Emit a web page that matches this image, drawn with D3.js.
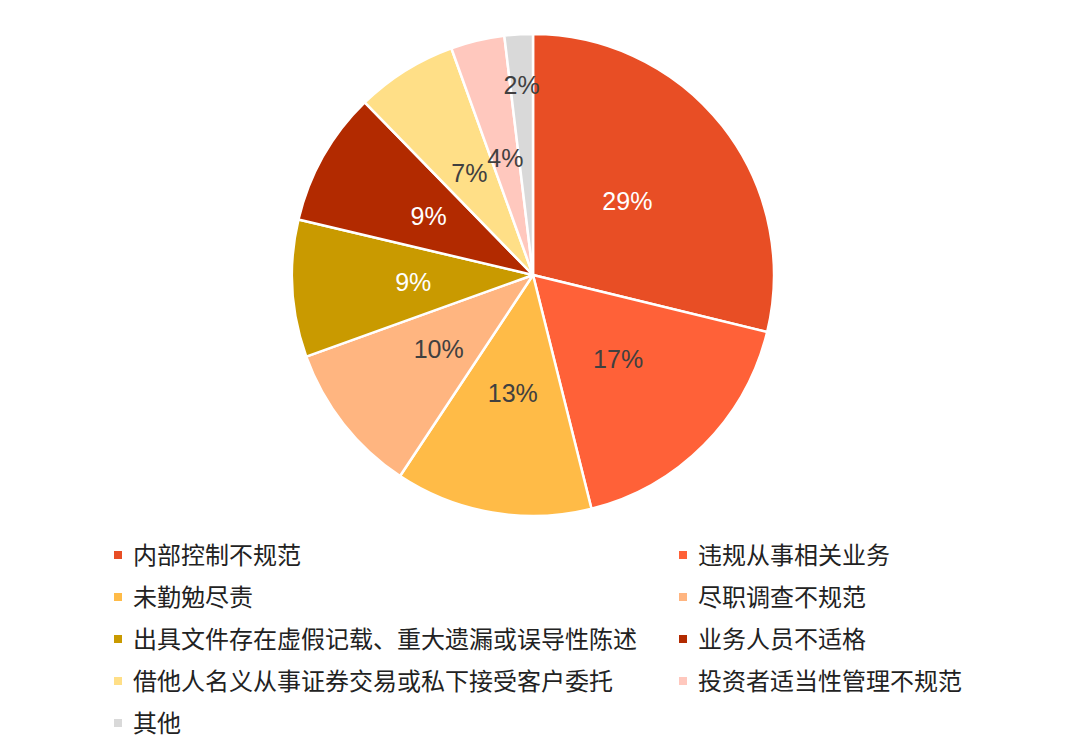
<!DOCTYPE html>
<html>
<head>
<meta charset="utf-8">
<script src="https://cdn.jsdelivr.net/npm/d3@7"></script>
<style>
  body { margin: 0; background: #fff; }
  svg text { font-family: "Liberation Sans", Arial, sans-serif; }
  .lg text { font-family: "Noto Sans CJK SC", sans-serif; font-size: 24px; fill: #222; }
</style>
</head>
<body>
<svg id="chart" width="1080" height="756"></svg>
<script>
// Data (shares; labels show them rounded)
const categories = ['内部控制不规范', '违规从事相关业务', '未勤勉尽责', '尽职调查不规范',
  '出具文件存在虚假记载、重大遗漏或误导性陈述', '业务人员不适格',
  '借他人名义从事证券交易或私下接受客户委托', '投资者适当性管理不规范', '其他']
const values = [28.8, 17.3, 13.2, 10.2, 9.2, 9.0, 6.8, 3.6, 1.9]
const colors = ['#E84E25', '#FF6138', '#FFBB47', '#FFB580', '#C99A00', '#B22A00', '#FFDF87', '#FFC8BE', '#D9D9D9']
const labelFill = ['#fff', '#404040', '#404040', '#404040', '#fff', '#fff', '#404040', '#404040', '#404040']

const cx = 533, cy = 275, R = 241

const svg = d3.select('#chart')
const data = values.map((v, i) => ({name: categories[i], value: v, color: colors[i], lf: labelFill[i]}))

const pie = d3.pie().value(d => d.value).sort(null)
const arc = d3.arc().innerRadius(0).outerRadius(R)
const arcs = pie(data)

const g = svg.append('g').attr('transform', `translate(${cx},${cy})`)

g.selectAll('path').data(arcs).enter()
  .append('path')
  .attr('d', arc)
  .attr('fill', d => d.data.color)
  .attr('stroke', '#fff')
  .attr('stroke-width', 2.5)
  .attr('stroke-linejoin', 'round')

// Labels at half radius, tiny slices pushed outward (like Excel does)
g.selectAll('.lbl').data(arcs).enter()
  .append('text')
  .attr('class', 'lbl')
  .attr('transform', d => {
    const r = d.data.value < 3 ? 190 : 120
    const a = (d.startAngle + d.endAngle) / 2
    return `translate(${Math.sin(a) * r},${-Math.cos(a) * r})`
  })
  .attr('text-anchor', 'middle')
  .attr('dy', '0.35em')
  .attr('font-size', 25)
  .attr('fill', d => d.data.lf)
  .text(d => Math.round(d.data.value) + '%')

// Legend, two columns
const lg = svg.append('g').attr('class', 'lg')
const colX = [118, 683], rowY = d3.scaleLinear().domain([0, 1]).range([555, 597])
const items = lg.selectAll('g').data(data).enter()
  .append('g')
  .attr('transform', (d, i) => `translate(${colX[i % 2]},${rowY(Math.floor(i / 2))})`)
items.append('rect')
  .attr('x', -4).attr('y', -4).attr('width', 8).attr('height', 8)
  .attr('fill', d => d.color)
items.append('text')
  .attr('x', 15).attr('dy', '0.36em')
  .text(d => d.name)
</script>
</body>
</html>
